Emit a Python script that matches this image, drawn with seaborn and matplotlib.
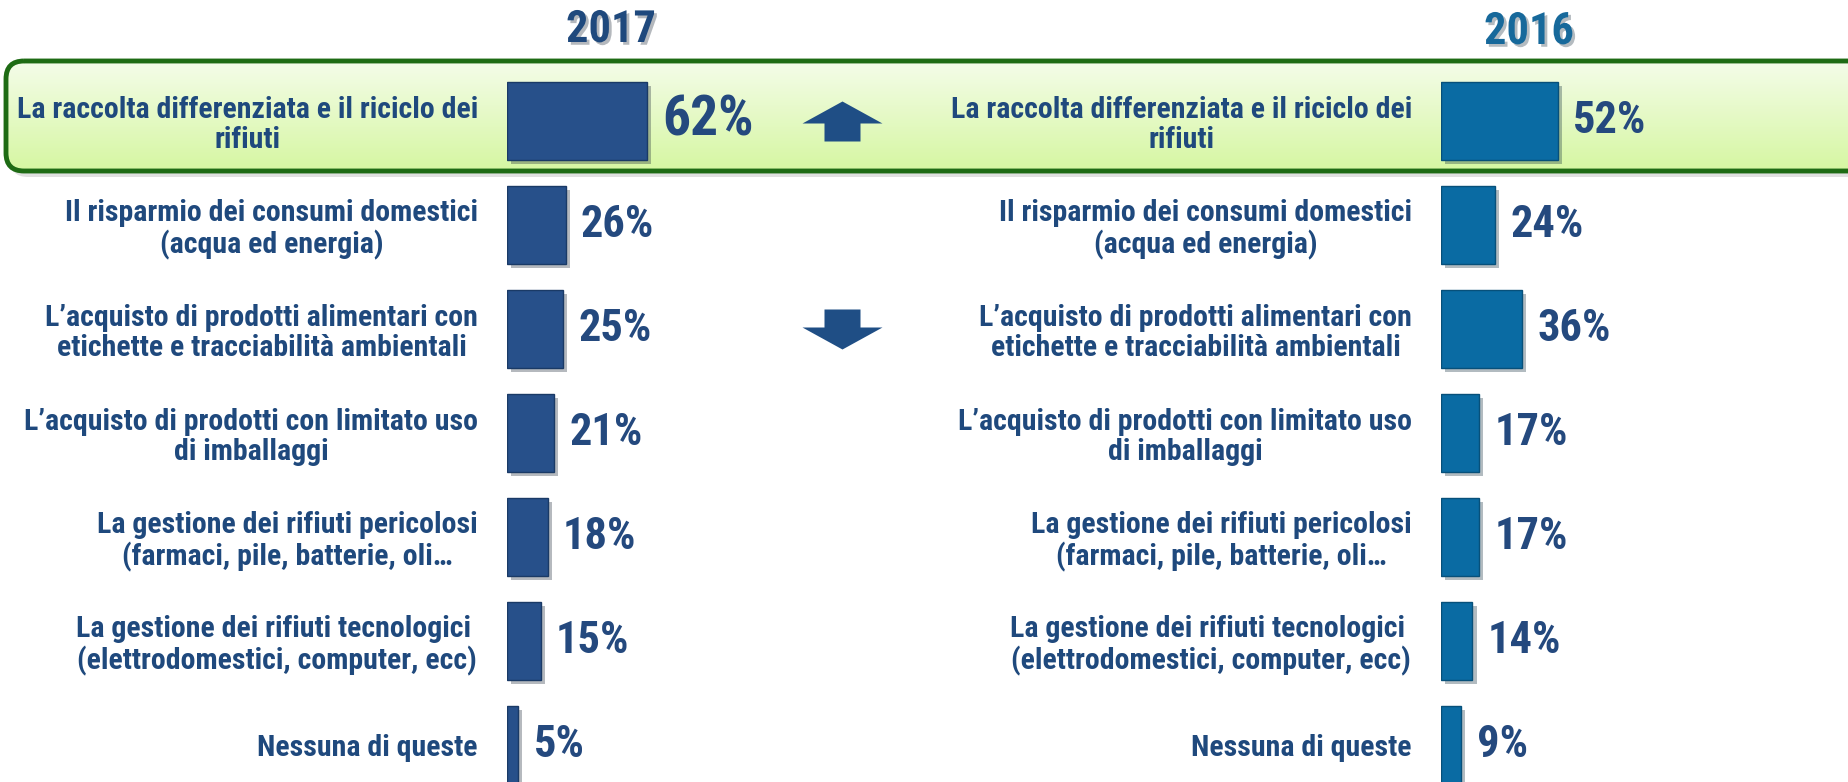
import numpy as np
import pandas as pd
import matplotlib.pyplot as plt
import seaborn as sns
import matplotlib.patheffects as pe
from matplotlib.patches import FancyBboxPatch
from matplotlib.colors import LinearSegmentedColormap

items = [
    'La raccolta differenziata e il riciclo dei\nrifiuti',
    'Il risparmio dei consumi domestici\n(acqua ed energia)',
    'L’acquisto di prodotti alimentari con\netichette e tracciabilità ambientali',
    'L’acquisto di prodotti con limitato uso\ndi imballaggi',
    'La gestione dei rifiuti pericolosi\n(farmaci, pile, batterie, oli…',
    'La gestione dei rifiuti tecnologici \n(elettrodomestici, computer, ecc)',
    'Nessuna di queste',
]
pct_2017 = [62, 26, 25, 21, 18, 15, 5]
pct_2016 = [52, 24, 36, 17, 17, 14, 9]
trend = ['up', '', 'down', '', '', '', '']

sns.set_style('white')
plt.rcParams['font.family'] = ['Roboto Condensed', 'Lato', 'DejaVu Sans']
plt.rcParams['font.weight'] = 'bold'

W, H = 1849, 782
fig = plt.figure(figsize=(W / 100, H / 100), dpi=100)

# sfondo: riga evidenziata
bg = fig.add_axes([0, 0, 1, 1], zorder=0)
grad = np.linspace(0, 1, 100).reshape(-1, 1)
cmap = LinearSegmentedColormap.from_list('verde', ['#F4FCE9', '#D6F7A2'])
shadow = FancyBboxPatch((10, 66), 1880, 111, boxstyle='round,pad=0,rounding_size=18',
                        fc='black', ec='none', alpha=0.12, zorder=0)
box = FancyBboxPatch((6, 61), 1880, 110, boxstyle='round,pad=0,rounding_size=18',
                     fc='none', ec='#1E6B14', lw=3.5, zorder=2)
bg.add_patch(shadow)
im = bg.imshow(grad, cmap=cmap, extent=[6, 1886, 171, 61], aspect='auto', zorder=1)
bg.add_patch(box)
im.set_clip_path(box)
bg.set_xlim(0, W)
bg.set_ylim(H, 0)
bg.axis('off')


def panel(x0, values, color, edge):
    ax = fig.add_axes([x0 / W, 0, 225 / W, 1], zorder=2)
    ax.patch.set_alpha(0)
    df = pd.DataFrame({'item': items, 'pct': values})
    sns.barplot(data=df, x='pct', y='item', orient='h', color=color, saturation=1,
                width=0.75, edgecolor=edge, linewidth=1, ax=ax)
    for bar in ax.patches:
        bar.set_path_effects([pe.SimplePatchShadow(offset=(3, -3), alpha=0.3), pe.Normal()])
    ax.set_xlim(0, 100)
    ax.set_ylim(6.356, -1.163)
    sns.despine(ax=ax, left=True, bottom=True)
    ax.set_xticks([])
    ax.set_xlabel('')
    ax.set_ylabel('')
    ax.tick_params(axis='y', length=0, pad=21, labelsize=21.5, labelcolor='#1F497D')
    for t in ax.get_yticklabels():
        t.set_multialignment('center')
        t.set_fontweight('bold')
        t.set_linespacing(1.1)
    labs = ax.bar_label(ax.containers[0], labels=[f'{v}%' for v in values], padding=11,
                        fontsize=32, color='#24497E', fontweight='bold')
    return ax, labs


ax1, labs1 = panel(507, pct_2017, '#27508A', '#1A3A66')
ax2, labs2 = panel(1441, pct_2016, '#0A6BA3', '#07507A')
labs1[0].set_fontsize(40)

# frecce di tendenza
up = [(-0.45, -0.5), (0.45, -0.5), (0.45, -0.05), (1, -0.05), (0, 0.5), (-1, -0.05), (-0.45, -0.05)]
down = [(x, -y) for x, y in up]
rows = np.arange(len(items))
for kind, shape in [('up', up), ('down', down)]:
    sel = [r for r in rows if trend[r] == kind]
    ax1.scatter([149] * len(sel), sel, marker=shape, s=57.6 ** 2, color='#1F4E85',
                linewidths=0, clip_on=False, zorder=3)

shad = [pe.withSimplePatchShadow(offset=(2, -2), alpha=0.3)]
fig.text(611 / W, 1 - 30 / H, '2017', ha='center', va='center', fontsize=32,
         color='#1F497D', fontweight='bold', path_effects=shad)
fig.text(1529 / W, 1 - 32 / H, '2016', ha='center', va='center', fontsize=32,
         color='#17699B', fontweight='bold', path_effects=shad)

fig.savefig('out.png', dpi=100)
